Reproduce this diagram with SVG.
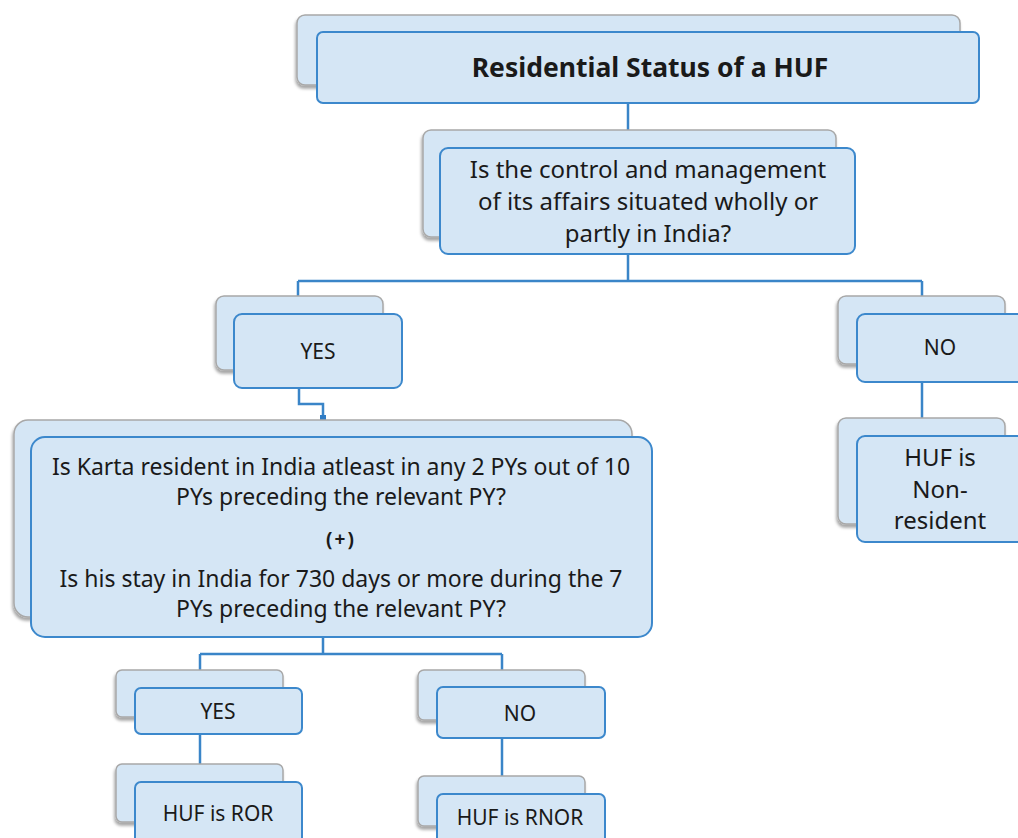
<svg xmlns="http://www.w3.org/2000/svg" width="1018" height="838" viewBox="0 0 1018 838">
<defs>
<filter id="sh" x="-10%" y="-10%" width="120%" height="130%">
<feDropShadow dx="-1" dy="3" stdDeviation="1.5" flood-color="#000" flood-opacity="0.35"/>
</filter>
<marker id="sq" markerWidth="6" markerHeight="6" refX="3" refY="3" markerUnits="userSpaceOnUse">
<rect x="0" y="0" width="6" height="6" fill="#2f7cc4"/>
</marker>
</defs>
<style>
.back{fill:#d5e6f5;stroke:#a8a8a8;stroke-width:1.5;filter:url(#sh)}
.front{fill:#d5e6f5;stroke:#3c88cc;stroke-width:2}
.t{font-family:"Noto Sans","Open Sans",sans-serif;fill:#1a1a1a;text-anchor:middle}
.c{fill:none;stroke:#3a85c8;stroke-width:2.5}
</style>
<rect width="1018" height="838" fill="#fff"/>
<g id="connectors">
<path class="c" d="M628,103V130"/>
<path class="c" d="M628,254V281M298,281H922M298,281V298M922,281V298"/>
<path class="c" d="M299,388V404H323V418" marker-end="url(#sq)"/>
<path class="c" d="M922,382V418"/>
<path class="c" d="M323,637V654M200,654H502M200,654V670M502,654V670"/>
<path class="c" d="M200,734V765"/>
<path class="c" d="M502,738V776"/>
</g>
<g id="title">
<rect class="back" x="297" y="15" width="663" height="70" rx="8"/>
<rect class="front" x="317" y="32" width="662" height="71" rx="6"/>
<text class="t" x="650" y="77" font-size="26.5" font-weight="bold">Residential Status of a HUF</text>
</g>
<g id="q1">
<rect class="back" x="423" y="130" width="413" height="107" rx="8"/>
<rect class="front" x="440" y="148" width="415" height="106" rx="8"/>
<text class="t" font-size="24"><tspan x="648" y="178">Is the control and management</tspan><tspan x="648" y="210">of its affairs situated wholly or</tspan><tspan x="648" y="242">partly in India?</tspan></text>
</g>
<g id="yes1">
<rect class="back" x="216" y="296" width="167" height="74" rx="8"/>
<rect class="front" x="234" y="314" width="168" height="74" rx="8"/>
<text class="t" x="318" y="359" font-size="21">YES</text>
</g>
<g id="no1">
<rect class="back" x="838" y="296" width="167" height="68" rx="8"/>
<rect class="front" x="857" y="314" width="168" height="68" rx="8"/>
<text class="t" x="940" y="355" font-size="21">NO</text>
</g>
<g id="nonres">
<rect class="back" x="838" y="418" width="167" height="106" rx="8"/>
<rect class="front" x="857" y="436" width="168" height="106" rx="8"/>
<text class="t" font-size="24"><tspan x="940" y="466">HUF is</tspan><tspan x="940" y="498">Non-</tspan><tspan x="940" y="529">resident</tspan></text>
</g>
<g id="q2">
<rect class="back" x="14" y="420" width="618" height="197" rx="14"/>
<rect class="front" x="31" y="437" width="621" height="200" rx="14"/>
<text class="t" font-size="23"><tspan x="341" y="475">Is Karta resident in India atleast in any 2 PYs out of 10</tspan><tspan x="341" y="505">PYs preceding the relevant PY?</tspan><tspan x="341" y="546" font-size="19" font-weight="bold" letter-spacing="2">(+)</tspan><tspan x="341" y="587">Is his stay in India for 730 days or more during the 7</tspan><tspan x="341" y="617">PYs preceding the relevant PY?</tspan></text>
</g>
<g id="yes2">
<rect class="back" x="116" y="670" width="167" height="47" rx="6"/>
<rect class="front" x="135" y="688" width="167" height="46" rx="6"/>
<text class="t" x="218" y="719" font-size="21">YES</text>
</g>
<g id="no2">
<rect class="back" x="418" y="670" width="167" height="50" rx="6"/>
<rect class="front" x="437" y="687" width="168" height="51" rx="6"/>
<text class="t" x="520" y="721" font-size="21">NO</text>
</g>
<g id="ror">
<rect class="back" x="116" y="764" width="167" height="58" rx="6"/>
<rect class="front" x="135" y="782" width="167" height="70" rx="6"/>
<text class="t" x="218" y="821" font-size="21">HUF is ROR</text>
</g>
<g id="rnor">
<rect class="back" x="418" y="776" width="167" height="50" rx="6"/>
<rect class="front" x="437" y="794" width="168" height="60" rx="6"/>
<text class="t" x="520" y="825" font-size="21">HUF is RNOR</text>
</g>
</svg>
